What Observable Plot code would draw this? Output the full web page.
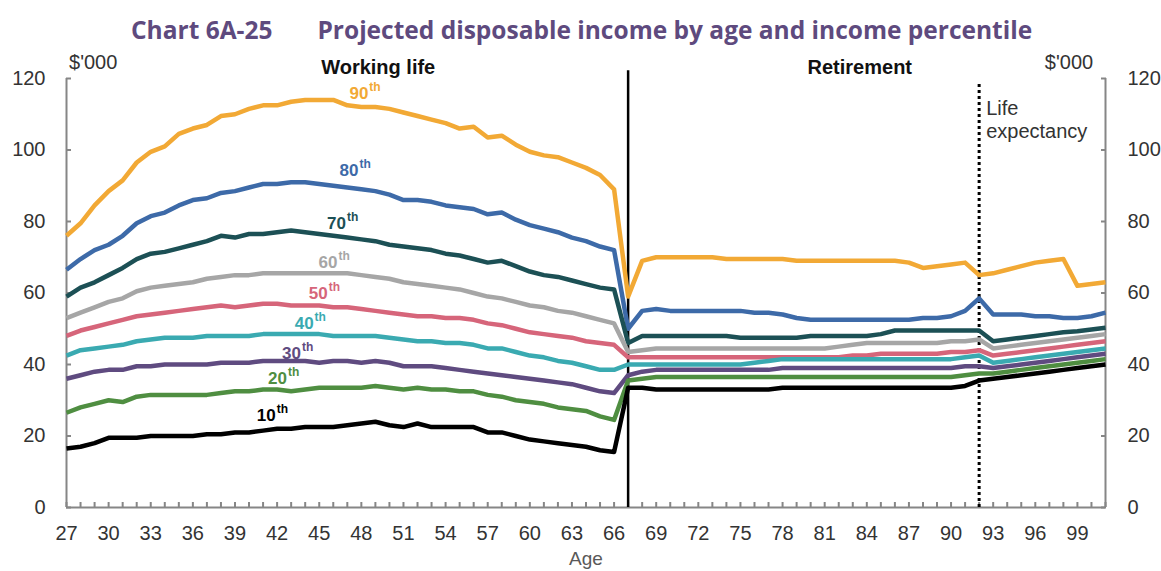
<!DOCTYPE html>
<html><head><meta charset="utf-8">
<script src="https://cdn.jsdelivr.net/npm/d3@7"></script>
<script src="https://cdn.jsdelivr.net/npm/@observablehq/plot@0.6"></script>
<style>
body{margin:0;background:#fff;width:1161px;height:571px;overflow:hidden;font-family:"Liberation Sans",Arial,sans-serif}
#title{height:45px;box-sizing:border-box;padding-top:16px;padding-left:131px;font-family:"Open Sans",sans-serif;font-weight:700;font-size:24.5px;line-height:28px;color:#5E4A7E;white-space:nowrap}
#chart svg{display:block}
</style></head><body>
<div id="title"><span id="t1">Chart 6A-25</span><span id="t2" style="margin-left:45px">Projected disposable income by age and income percentile</span></div>
<div id="chart"></div>
<script>
// Ages (x categories)
const ages = [27,28,29,30,31,32,33,34,35,36,37,38,39,40,41,42,43,44,45,46,47,48,49,50,51,52,53,54,55,56,57,58,59,60,61,62,63,64,65,66,
  67,68,69,70,71,72,73,74,75,76,77,78,79,80,81,82,83,84,85,86,87,88,89,90,91,92,93,94,95,96,97,98,99,100,101];

// Disposable income ($'000) by percentile, ages 27..101
const p90 = [76,79.5,84.5,88.5,91.5,96.5,99.5,101,104.5,106,107,109.5,110,111.5,112.5,112.5,113.5,114,114,114,112.5,112,112,111.5,110.5,109.5,108.5,107.5,106,106.5,103.5,104,101.5,99.5,98.5,98,96.5,95,93,89,
  59,69,70,70,70,70,70,69.5,69.5,69.5,69.5,69.5,69,69,69,69,69,69,69,69,68.5,67,67.5,68,68.5,65,65.5,66.5,67.5,68.5,69,69.5,62,62.5,63];
const p80 = [66.5,69.5,72,73.5,76,79.5,81.5,82.5,84.5,86,86.5,88,88.5,89.5,90.5,90.5,91,91,90.5,90,89.5,89,88.5,87.5,86,86,85.5,84.5,84,83.5,82,82.5,80.5,79,78,77,75.5,74.5,73,72,
  50,55,55.5,55,55,55,55,55,55,54.5,54.5,54,53,52.5,52.5,52.5,52.5,52.5,52.5,52.5,52.5,53,53,53.5,55,58.5,54,54,54,53.5,53.5,53,53,53.5,54.5];
const p70 = [59,61.5,63,65,67,69.5,71,71.5,72.5,73.5,74.5,76,75.5,76.5,76.5,77,77.5,77,76.5,76,75.5,75,74.5,73.5,73,72.5,72,71,70.5,69.5,68.5,69,67.5,66,65,64.5,63.5,62.5,61.5,61,
  46,48,48,48,48,48,48,48,47.5,47.5,47.5,47.5,47.5,48,48,48,48,48,48.5,49.5,49.5,49.5,49.5,49.5,49.5,49.5,46.5,47,47.5,48,48.5,49,49.3,49.8,50.3];
const p60 = [53,54.5,56,57.5,58.5,60.5,61.5,62,62.5,63,64,64.5,65,65,65.5,65.5,65.5,65.5,65.5,65.5,65.5,65,64.5,64,63,62.5,62,61.5,61,60,59,58.5,57.5,56.5,56,55,54.5,53.5,52.5,51.5,
  43.5,44,44.5,44.5,44.5,44.5,44.5,44.5,44.5,44.5,44.5,44.5,44.5,44.5,44.5,45,45.5,46,46,46,46,46,46,46.5,46.5,47,44.5,45,45.5,46,46.5,47,47.5,48,48.5];
const p50 = [48,49.5,50.5,51.5,52.5,53.5,54,54.5,55,55.5,56,56.5,56,56.5,57,57,56.5,56.5,56.5,56,56,55.5,55,54.5,54,53.5,53.5,53,53,52.5,51.5,51,50,49,48.5,48,47.5,46.5,46,45.5,
  42,42,42,42,42,42,42,42,42,42,42,42,42,42,42,42,42.5,42.5,43,43,43,43,43,43.5,43.5,44,42.5,43,43.5,44,44.5,45,45.5,46,46.5];
const p40 = [42.5,44,44.5,45,45.5,46.5,47,47.5,47.5,47.5,48,48,48,48,48.5,48.5,48.5,48.5,48.5,48,48,48,48,47.5,47,46.5,46.5,46,46,45.5,44.5,44.5,43.5,42.5,42,41,40.5,39.5,38.5,38.5,
  40,40,40,40,40,40,40,40,40,40.5,41,41.5,41.5,41.5,41.5,41.5,41.5,41.5,41.5,41.5,41.5,41.5,41.5,41.5,42,42.5,40.5,41,41.5,42,42.5,43,43.5,44,44.5];
const p30 = [36,37,38,38.5,38.5,39.5,39.5,40,40,40,40,40.5,40.5,40.5,41,41,41,41,40.5,41,41,40.5,41,40.5,39.5,39.5,39.5,39,38.5,38,37.5,37,36.5,36,35.5,35,34.5,33.5,32.5,32,
  37,38,38.5,38.5,38.5,38.5,38.5,38.5,38.5,38.5,38.5,39,39,39,39,39,39,39,39,39,39,39,39,39,39.5,39.5,39,39.5,40,40.5,41,41.5,42,42.5,43];
const p20 = [26.5,28,29,30,29.5,31,31.5,31.5,31.5,31.5,31.5,32,32.5,32.5,33,33,32.5,33,33.5,33.5,33.5,33.5,34,33.5,33,33.5,33,33,32.5,32.5,31.5,31,30,29.5,29,28,27.5,27,25.5,24.5,
  35.5,36,36.5,36.5,36.5,36.5,36.5,36.5,36.5,36.5,36.5,36.5,36.5,36.5,36.5,36.5,36.5,36.5,36.5,36.5,36.5,36.5,36.5,36.5,37,37.5,37.5,38,38.5,39,39.5,40,40.5,41,41.5];
const p10 = [16.5,17,18,19.5,19.5,19.5,20,20,20,20,20.5,20.5,21,21,21.5,22,22,22.5,22.5,22.5,23,23.5,24,23,22.5,23.5,22.5,22.5,22.5,22.5,21,21,20,19,18.5,18,17.5,17,16,15.5,
  33.5,33.5,33,33,33,33,33,33,33,33,33,33.5,33.5,33.5,33.5,33.5,33.5,33.5,33.5,33.5,33.5,33.5,33.5,33.5,34,35.5,36,36.5,37,37.5,38,38.5,39,39.5,40];

const seriesNames = ["90th","80th","70th","60th","50th","40th","30th","20th","10th"];
const seriesValues = [p90,p80,p70,p60,p50,p40,p30,p20,p10];
const seriesColors = ["#F2A935","#3D6AA8","#1C5055","#A6A6A6","#D6657A","#3AAAB1","#5F4B80","#4F8E41","#000000"];

const yTicks = [0,20,40,60,80,100,120];
const xTickLabels = [27,30,33,36,39,42,45,48,51,54,57,60,63,66,69,72,75,78,81,84,87,90,93,96,99];
const xDomain = [27,101];
const yDomain = [0,120];
const retirementAge = 67;
const lifeExpectancy = 92;

// Percentile labels (annotation anchors in data units)
const labelNums = ["90","80","70","60","50","40","30","20","10"];
const labelAges = [48.5,47.8,46.9,46.3,45.6,44.6,43.7,42.7,41.9];
const labelValues = [115.8,94.3,79.4,68.5,59.9,51.5,43.1,36.1,25.7];

const table = [];
seriesNames.forEach((s,i) => seriesValues[i].forEach((v,j) => table.push({age: ages[j], value: v, series: s})));
const labels = seriesNames.map((s,i) => ({series: s, num: labelNums[i], age: labelAges[i], value: labelValues[i]}));

const axisGrey = "#868686";
const textCol = "#333333";

const chart = Plot.plot({
  width: 1161, height: 526,
  marginTop: 33, marginBottom: 64, marginLeft: 66, marginRight: 56,
  style: {fontFamily: "'Liberation Sans', Arial, sans-serif", fontSize: "20px", color: textCol, background: "#fff"},
  x: {domain: xDomain},
  y: {domain: yDomain},
  color: {domain: seriesNames, range: seriesColors},
  marks: [
    Plot.axisY({anchor: "left", ticks: yTicks, tickSize: 0, tickPadding: 21, fontSize: 20, label: null, fill: textCol}),
    Plot.axisY({anchor: "right", ticks: yTicks, tickSize: 0, tickPadding: 22, fontSize: 20, label: null, fill: textCol}),
    Plot.axisX({ticks: xTickLabels, tickSize: 0, tickPadding: 18, fontSize: 20, label: null, fill: textCol, tickFormat: d => String(d)}),
    Plot.axisY({anchor: "left", ticks: yTicks, tickSize: 5, dx: 5, fill: "none", stroke: axisGrey, strokeWidth: 2, label: null}),
    Plot.axisY({anchor: "right", ticks: yTicks, tickSize: 5, dx: -5, fill: "none", stroke: axisGrey, strokeWidth: 2, label: null}),
    Plot.axisX({ticks: ages, tickSize: 5, dy: -5, fill: "none", stroke: axisGrey, strokeWidth: 2, label: null}),
    Plot.ruleX(xDomain, {y1: yDomain[0], y2: yDomain[1], stroke: axisGrey, strokeWidth: 2}),
    Plot.ruleY([0], {x1: xDomain[0], x2: xDomain[1], stroke: axisGrey, strokeWidth: 2}),
    Plot.ruleX([retirementAge], {y1: 0, y2: 122.2, stroke: "#000", strokeWidth: 2.5}),
    Plot.ruleX([lifeExpectancy], {y1: 0, y2: 119, stroke: "#000", strokeWidth: 3, strokeDasharray: "3,3"}),
    Plot.line(table, {x: "age", y: "value", z: "series", stroke: "series", strokeWidth: 4.5, strokeLinejoin: "round", strokeLinecap: "butt"}),
    Plot.text(labels, {x: "age", y: "value", text: "num", fill: "series", textAnchor: "end", fontSize: 17, fontWeight: "bold"}),
    Plot.text(labels, {x: "age", y: "value", text: () => "th", fill: "series", textAnchor: "start", dx: 1, dy: -6, fontSize: 12, fontWeight: "bold"}),
    Plot.text(["Working life"], {x: 49.2, y: 123, text: d => d, fontWeight: "bold", fontSize: 20, fill: "#111"}),
    Plot.text(["Retirement"], {x: 83.5, y: 123, text: d => d, fontWeight: "bold", fontSize: 20, fill: "#111"}),
    Plot.text(["$'000"], {x: 28.9, y: 124.5, text: d => d, fontSize: 20, fill: textCol}),
    Plot.text(["$'000"], {x: 98.4, y: 124.5, text: d => d, fontSize: 20, fill: textCol}),
    Plot.text(["Life\nexpectancy"], {x: 92.5, y: 108.7, text: d => d, textAnchor: "start", lineHeight: 1.15, fontSize: 20, fill: textCol}),
    Plot.text(["Age"], {frameAnchor: "bottom", lineAnchor: "top", dy: 44, text: d => d, fontSize: 19, fill: "#595959"})
  ]
});
document.getElementById("chart").appendChild(chart);
</script>
</body></html>
